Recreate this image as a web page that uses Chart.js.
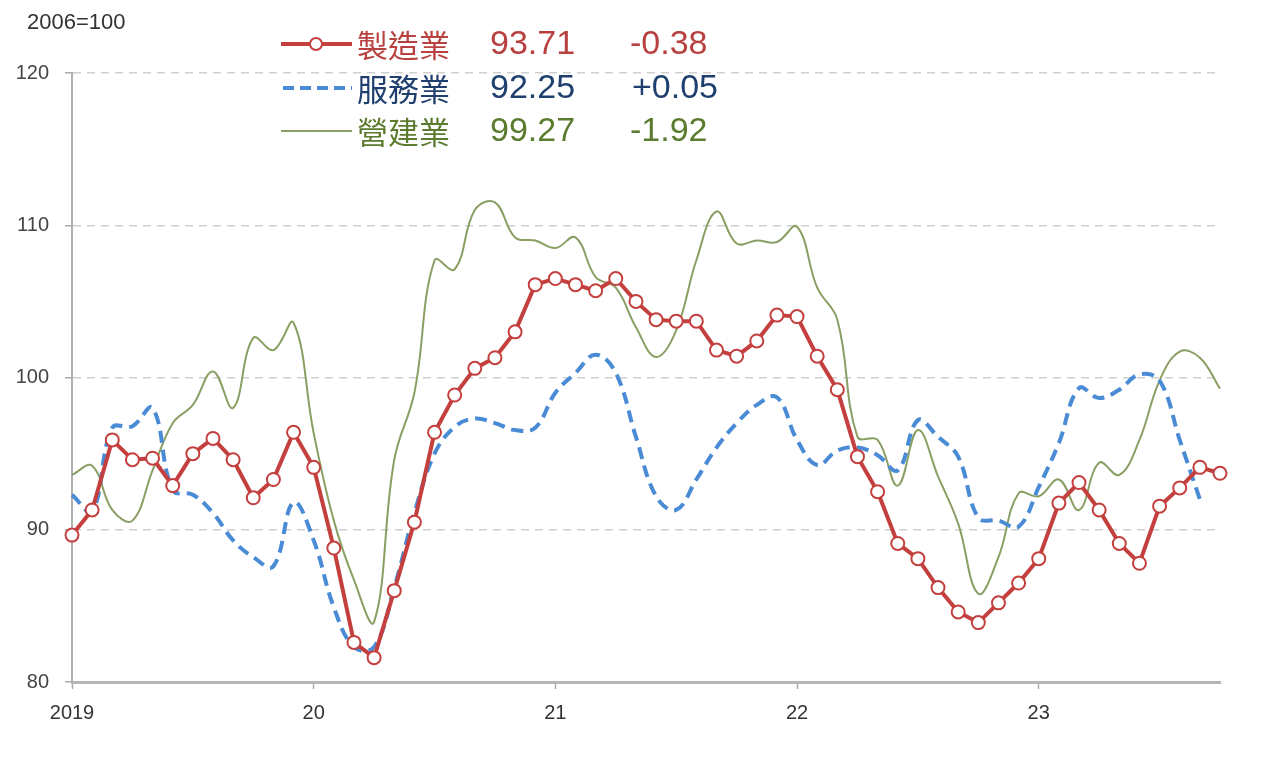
<!DOCTYPE html>
<html>
<head>
<meta charset="utf-8">
<script src="https://cdn.jsdelivr.net/npm/chart.js@4.4.1/dist/chart.umd.min.js"></script>
<style>
  html, body { margin: 0; padding: 0; background: #fff; }
  #wrap { width: 1278px; height: 774px; position: relative; }
</style>
</head>
<body>
<div id="wrap"><canvas id="chart" width="1278" height="774"></canvas></div>
<script>
// Données : indices 2006=100, mensuel janv. 2019 -> oct. 2023
const years = ['2019', '20', '21', '22', '23'];
const monthCount = 58;

const manufacturing = [
  89.65, 91.3, 95.9, 94.6, 94.7, 92.9, 95.0, 96.0, 94.6, 92.1, 93.3, 96.4,
  94.1, 88.8, 82.6, 81.6, 86.0, 90.5, 96.4, 98.85, 100.6, 101.3, 103.0, 106.1,
  106.5, 106.1, 105.7, 106.5, 105.0, 103.8, 103.7, 103.7, 101.8, 101.4, 102.4, 104.1,
  104.0, 101.4, 99.2, 94.8, 92.5, 89.1, 88.1, 86.2, 84.6, 83.9, 85.2, 86.5,
  88.1, 91.75, 93.1, 91.3, 89.1, 87.8, 91.55, 92.75, 94.1, 93.71
];

const services = [
  92.3, 91.2, 96.7, 96.8, 98.0, 92.6, 92.3, 91.1, 89.3, 88.2, 87.6, 91.8,
  89.3, 84.9, 82.3, 82.3, 86.2, 91.1, 95.0, 96.75, 97.3, 97.0, 96.55, 96.7,
  99.0, 100.3, 101.5, 100.3, 96.1, 92.2, 91.3, 93.3, 95.4, 97.0, 98.2, 98.7,
  95.9, 94.25, 95.2, 95.4, 94.9, 93.9, 97.2, 96.1, 94.8, 90.8, 90.6, 90.2,
  92.8, 95.7, 99.3, 98.65, 99.2, 100.2, 99.8, 95.9, 92.0
];

const construction = [
  93.6, 94.2, 91.3, 90.6, 93.9, 97.0, 98.2, 100.4, 98.0, 102.6, 101.8, 103.6,
  96.35, 90.6, 86.7, 83.95, 94.6, 99.0, 107.7, 107.1, 111.0, 111.5, 109.2, 109.0,
  108.5, 109.2, 106.6, 105.9, 103.3, 101.35, 103.1, 107.7, 110.9, 108.8, 109.0, 108.9,
  109.9, 105.9, 103.8, 96.1, 95.9, 92.9, 96.55, 93.5, 90.4, 85.8, 88.2, 92.4,
  92.2, 93.3, 91.3, 94.4, 93.6, 95.9, 99.8, 101.7, 101.3, 99.27
];

const seriesNames = ['製造業', '服務業', '營建業'];
const latestValues = ['93.71', '92.25', '99.27'];
const monthlyChanges = ['-0.38', '+0.05', '-1.92'];

const yTicks = [80, 90, 100, 110, 120];

// Libellés mensuels
const labels = [];
for (let i = 0; i < monthCount; i++) {
  labels.push(years[Math.floor(i / 12)] + '-' + (i % 12 + 1));
}

const RED = '#c4403e';
const BLUE = '#4a8bd6';
const GREEN = '#8a9f63';
const textColors = ['#b8403f', '#1f3f6e', '#5b7b2e'];

const latinFont = "'Liberation Sans', Arial, sans-serif";
const cjkFont = "'Noto Sans CJK TC', 'Noto Sans CJK SC', sans-serif";

// Légende dessinée à la main
const legendPlugin = {
  id: 'customLegend',
  afterDraw(chart) {
    const ctx = chart.ctx;
    ctx.save();

    // unité
    ctx.font = '22px ' + latinFont;
    ctx.fillStyle = '#333';
    ctx.textBaseline = 'middle';
    ctx.textAlign = 'left';
    ctx.fillText('2006=100', 27, 23);

    const rows = [44, 88, 131];
    rows.forEach((y, i) => {
      // échantillon de ligne
      ctx.beginPath();
      if (i === 0) {
        ctx.strokeStyle = RED; ctx.lineWidth = 4; ctx.setLineDash([]);
        ctx.moveTo(281, y); ctx.lineTo(352, y); ctx.stroke();
        ctx.beginPath();
        ctx.arc(316, y, 6, 0, Math.PI * 2);
        ctx.fillStyle = '#fff'; ctx.fill();
        ctx.lineWidth = 2; ctx.stroke();
      } else if (i === 1) {
        ctx.strokeStyle = BLUE; ctx.lineWidth = 4; ctx.setLineDash([11, 6]);
        ctx.moveTo(283, y); ctx.lineTo(352, y); ctx.stroke();
        ctx.setLineDash([]);
      } else {
        ctx.strokeStyle = GREEN; ctx.lineWidth = 2; ctx.setLineDash([]);
        ctx.moveTo(281, y); ctx.lineTo(352, y); ctx.stroke();
      }

      ctx.fillStyle = textColors[i];
      ctx.font = '31px ' + cjkFont;
      ctx.fillText(seriesNames[i], 357, y + 1);
      ctx.font = '34px ' + latinFont;
      ctx.fillText(latestValues[i], 490, y + 1);
      ctx.fillText(monthlyChanges[i], i === 1 ? 632 : 630, y + 1);
    });
    ctx.restore();
  }
};

const chart = new Chart(document.getElementById('chart'), {
  type: 'line',
  data: {
    labels: labels,
    datasets: [
      {
        label: seriesNames[2],
        data: construction,
        borderColor: GREEN,
        borderWidth: 2,
        pointRadius: 0,
        tension: 0.4,
        fill: false,
        order: 3
      },
      {
        label: seriesNames[1],
        data: services,
        borderColor: BLUE,
        borderWidth: 4,
        borderDash: [12, 7],
        pointRadius: 0,
        tension: 0.4,
        fill: false,
        order: 2
      },
      {
        label: seriesNames[0],
        data: manufacturing,
        borderColor: RED,
        borderWidth: 4,
        pointRadius: 6.5,
        pointBorderWidth: 2,
        pointBackgroundColor: '#fff',
        pointBorderColor: RED,
        tension: 0,
        fill: false,
        order: 1
      }
    ]
  },
  options: {
    responsive: false,
    animation: false,
    layout: { padding: { left: 0, right: 58, top: 73, bottom: 0 } },
    plugins: {
      legend: { display: false },
      tooltip: { enabled: false }
    },
    scales: {
      x: {
        type: 'category',
        offset: false,
        afterFit: (s) => { s.height = 92; },
        border: { color: '#b5b5b5', width: 3 },
        grid: {
          drawOnChartArea: false,
          drawTicks: true,
          tickLength: 7,
          tickWidth: 1.5,
          color: (c) => (c.index % 12 === 0 ? '#aaa' : 'transparent')
        },
        ticks: {
          autoSkip: false,
          maxRotation: 0,
          padding: 12,
          color: '#333',
          font: { family: latinFont, size: 20 },
          callback: (v, i) => (i % 12 === 0 ? years[i / 12] : '')
        }
      },
      y: {
        min: yTicks[0],
        max: yTicks[yTicks.length - 1],
        afterFit: (s) => { s.width = 72; },
        afterBuildTicks: (s) => { s.ticks = yTicks.map(v => ({ value: v })); },
        border: { color: '#b0b0b0', width: 2, dash: [8, 6] },
        grid: {
          color: (c) => (c.tick && c.tick.value === 80 ? 'transparent' : '#cfcfcf'),
          lineWidth: 1.5,
          tickLength: 7,
          tickColor: '#aaa'
        },
        ticks: {
          padding: 16,
          color: '#444',
          font: { family: latinFont, size: 20 }
        }
      }
    }
  },
  plugins: [legendPlugin]
});
</script>
</body>
</html>
